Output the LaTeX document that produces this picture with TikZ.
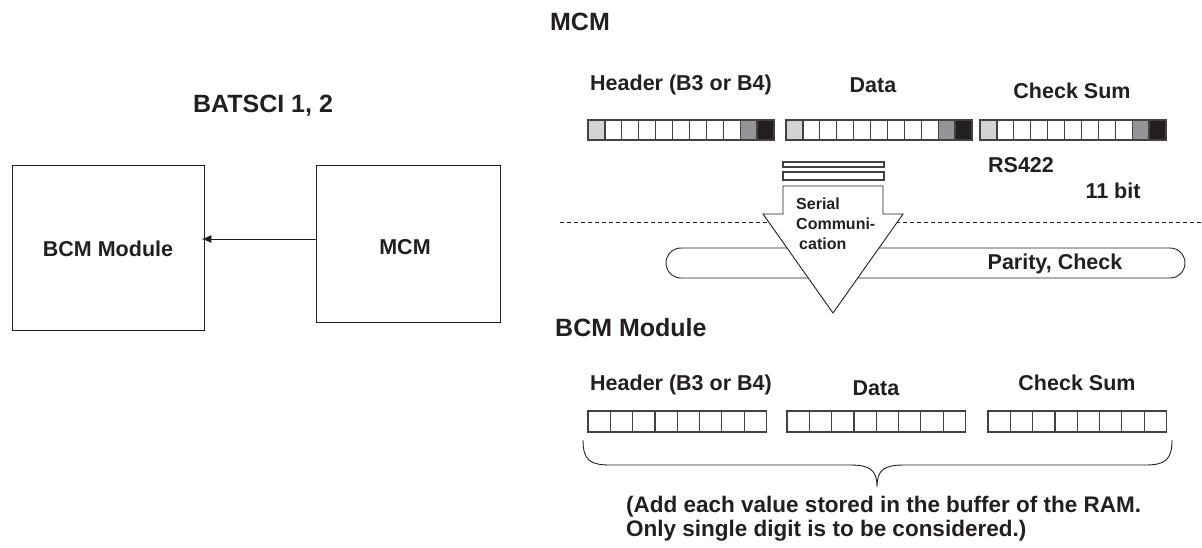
\documentclass[tikz,border=0pt]{standalone}
\usepackage{fontspec}
\setmainfont{Liberation Sans}
\usetikzlibrary{arrows.meta}
\definecolor{ink}{HTML}{231F20}
\definecolor{cellA}{HTML}{D1D3D4}
\definecolor{cellB}{HTML}{939598}
\definecolor{cellC}{HTML}{231F20}
\tikzset{
  cellbox/.style={draw=ink!85, line width=1.2pt},
  frame/.style={draw=ink, line width=0.9pt},
  txt/.style={text=ink, font=\bfseries\fontsize{21.5}{25}\selectfont, inner sep=0pt},
  title/.style={text=ink, font=\bfseries\fontsize{25}{30}\selectfont, inner sep=0pt},
}
\begin{document}
\begin{tikzpicture}[x=1pt,y=-1pt]
\useasboundingbox (0,0) rectangle (1202,547);
% left part
\node[title] (t1) at (263,106) {BATSCI 1, 2};
\node[frame, minimum width=192pt, minimum height=165pt, inner sep=0pt] (bcm) at (108,247.5) {};
\node[txt] (bcmt) at (108,249) {BCM Module};
\node[frame, minimum width=184pt, minimum height=157pt, inner sep=0pt] (mcm) at (408,243.5) {};
\node[txt] (mcmt) at (405,247) {MCM};
\draw[ink, line width=1pt, -{Latex[length=10pt,width=8pt]}] (mcm.west |- 0,239) -- ([xshift=-3pt]bcm.east |- 0,239);
% right top
\node[title] (t2) at (580,22) {MCM};
\node[txt] (h1) at (681,85) {Header (B3 or B4)};
\node[txt] (h2) at (873,85) {Data};
\node[txt] (h3) at (1072,91) {Check Sum};
\foreach \s in {588,786,980}{
  \foreach \i in {0,...,10}{
    \ifnum\i=0 \def\cc{cellA}\else\ifnum\i=9 \def\cc{cellB}\else\ifnum\i=10 \def\cc{cellC}\else\def\cc{white}\fi\fi\fi
    \draw[cellbox, fill=\cc] (\s+\i*16.9,120) rectangle ++(16.9,20);
  }
}
\draw[cellbox] (783,162) rectangle (884,167);
\draw[cellbox] (783,172) rectangle (884,180);
\node[txt] (rs) at (1021,165) {RS422};
\node[txt] (bit) at (1113,191) {11 bit};
\draw[ink, line width=0.8pt, dashed, dash pattern=on 4pt off 3pt] (560,222) -- (1202,222);
\draw[frame, rounded corners=15pt] (666,248) rectangle (1185,278);
\node[txt] (par) at (1055,264) {Parity, Check};
\draw[frame, fill=white, line join=miter] (783,186) -- (883,186) -- (883,214) -- (903,214) -- (833,313) -- (763,214) -- (783,214) -- cycle;
\node[text=ink, font=\bfseries\fontsize{16}{20}\selectfont, inner sep=0pt, align=left, anchor=north west] (sc) at (796,198) {Serial\\Communi-\\\hspace{3pt}cation};
% right bottom
\node[title, anchor=west] (t3) at (555,328) {BCM Module};
\node[txt] (b1) at (681,385) {Header (B3 or B4)};
\node[txt] (b2) at (876,388) {Data};
\node[txt] (b3) at (1077,383) {Check Sum};
\foreach \s in {588,787,988}{
  \foreach \i in {0,...,7}{
    \draw[cellbox] (\s+\i*22.3,411) rectangle ++(22.3,21);
  }
}
\draw[frame] (583,440) .. controls (583,460) and (590,465) .. (610,465) -- (850,465) .. controls (870,465) and (877,470) .. (877,487)
  .. controls (877,470) and (884,465) .. (904,465) -- (1145,465) .. controls (1165,465) and (1172,460) .. (1172,440);
\node[text=ink, font=\bfseries\fontsize{22.5}{24}\selectfont, inner sep=0pt, align=left, anchor=north west] (note) at (626,496) {(Add each value stored in the buffer of the RAM.\\Only single digit is to be considered.)};
\end{tikzpicture}
\end{document}
